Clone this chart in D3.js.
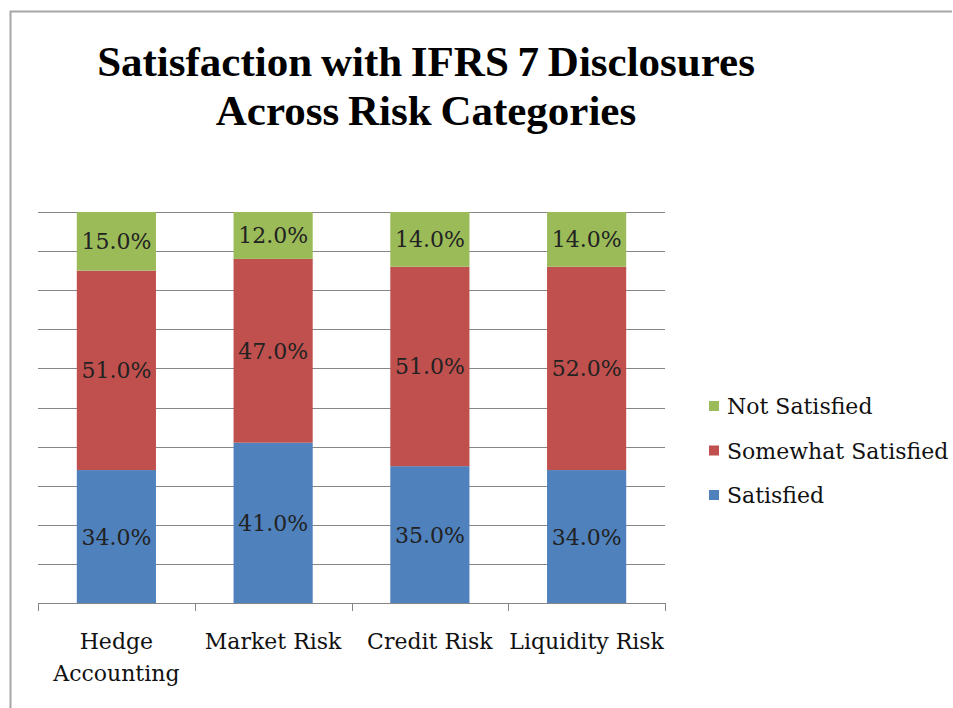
<!DOCTYPE html>
<html>
<head>
<meta charset="utf-8">
<script src="https://cdn.jsdelivr.net/npm/d3@7"></script>
<style>
  body { margin: 0; background: #fff; }
  svg { display: block; }
  .title { font-family: "Liberation Serif", serif; font-weight: bold; font-size: 43px; fill: #000; word-spacing: -2px; }
  .lbl { font-family: "DejaVu Serif", serif; font-size: 22px; fill: #222; }
  .cat { font-family: "DejaVu Serif", serif; font-size: 22px; fill: #111; }
  .leg { font-family: "DejaVu Serif", serif; font-size: 22px; fill: #111; }
</style>
</head>
<body>
<svg id="chart" width="953" height="708"></svg>
<script>
const categories = [["Hedge", "Accounting"], ["Market Risk"], ["Credit Risk"], ["Liquidity Risk"]];
const seriesNames = ["Satisfied", "Somewhat Satisfied", "Not Satisfied"];
const satisfied = [34, 41, 35, 34];
const somewhat = [51, 47, 51, 52];
const notSatisfied = [15, 12, 14, 14];
const colors = ["#4f81bd", "#c0504d", "#9bbb59"];
const yTicks = d3.range(0, 101, 10);

const svg = d3.select("#chart");

// frame
svg.append("path")
  .attr("d", "M10.5,708 V11.5 H952")
  .attr("fill", "none")
  .attr("stroke", "#a6a6a6")
  .attr("stroke-width", 2);

// title
svg.append("text").attr("class", "title")
  .attr("x", 426).attr("y", 76).attr("text-anchor", "middle")
  .text("Satisfaction with IFRS 7 Disclosures");
svg.append("text").attr("class", "title")
  .attr("x", 426).attr("y", 125).attr("text-anchor", "middle")
  .text("Across Risk Categories");

const plotL = 38, plotR = 665, plotT = 212, plotB = 603;

const x = d3.scaleBand()
  .domain(d3.range(categories.length))
  .range([plotL, plotR]);

const y = d3.scaleLinear().domain([0, 100]).range([plotB, plotT]);

// gridlines
svg.append("g")
  .selectAll("line")
  .data(yTicks.filter(d => d > 0))
  .enter()
  .append("line")
  .attr("x1", plotL).attr("x2", plotR)
  .attr("y1", d => Math.round(y(d)) + 0.5)
  .attr("y2", d => Math.round(y(d)) + 0.5)
  .attr("stroke", "#868686");

const rows = categories.map((c, i) => ({
  i, vals: [satisfied[i], somewhat[i], notSatisfied[i]]
}));
const stack = d3.stack().keys([0, 1, 2]).value((d, k) => d.vals[k]);
const layers = stack(rows);

const barW = x.bandwidth() * 0.505;

const layerG = svg.append("g")
  .selectAll("g")
  .data(layers)
  .enter()
  .append("g")
  .attr("fill", (d, i) => colors[i]);

layerG.selectAll("rect")
  .data(d => d)
  .enter()
  .append("rect")
  .attr("x", d => x(d.data.i) + (x.bandwidth() - barW) / 2)
  .attr("width", barW)
  .attr("y", d => y(d[1]))
  .attr("height", d => y(d[0]) - y(d[1]));

layerG.selectAll("text")
  .data(d => d)
  .enter()
  .append("text")
  .attr("class", "lbl")
  .attr("x", d => x(d.data.i) + x.bandwidth() / 2)
  .attr("y", d => (y(d[0]) + y(d[1])) / 2 + 8)
  .attr("text-anchor", "middle")
  .text(d => (d[1] - d[0]).toFixed(1) + "%");

// x axis
const axis = svg.append("g");
axis.append("line")
  .attr("x1", plotL).attr("x2", plotR)
  .attr("y1", plotB + 0.5).attr("y2", plotB + 0.5)
  .attr("stroke", "#868686");
axis.selectAll(".tk")
  .data(d3.range(categories.length + 1))
  .enter()
  .append("line")
  .attr("x1", i => Math.round(plotL + i * x.step()) + 0.5)
  .attr("x2", i => Math.round(plotL + i * x.step()) + 0.5)
  .attr("y1", plotB).attr("y2", plotB + 8)
  .attr("stroke", "#868686");

const catText = axis.selectAll(".cat")
  .data(categories)
  .enter()
  .append("text")
  .attr("class", "cat")
  .attr("text-anchor", "middle")
  .attr("x", (d, i) => x(i) + x.bandwidth() / 2)
  .attr("y", 649);
catText.selectAll("tspan")
  .data(d => d)
  .enter()
  .append("tspan")
  .attr("x", function () { return this.parentNode.getAttribute("x"); })
  .attr("dy", (d, i) => i === 0 ? 0 : 32)
  .text(d => d);

// legend
const legOrder = [2, 1, 0];
const leg = svg.append("g")
  .selectAll("g")
  .data(legOrder)
  .enter()
  .append("g")
  .attr("transform", (d, i) => `translate(709, ${406 + i * 44.5})`);
leg.append("rect")
  .attr("x", 0).attr("y", -5).attr("width", 10).attr("height", 10)
  .attr("fill", d => colors[d]);
leg.append("text")
  .attr("class", "leg")
  .attr("x", 18).attr("y", 8)
  .text(d => seriesNames[d]);
</script>
</body>
</html>
